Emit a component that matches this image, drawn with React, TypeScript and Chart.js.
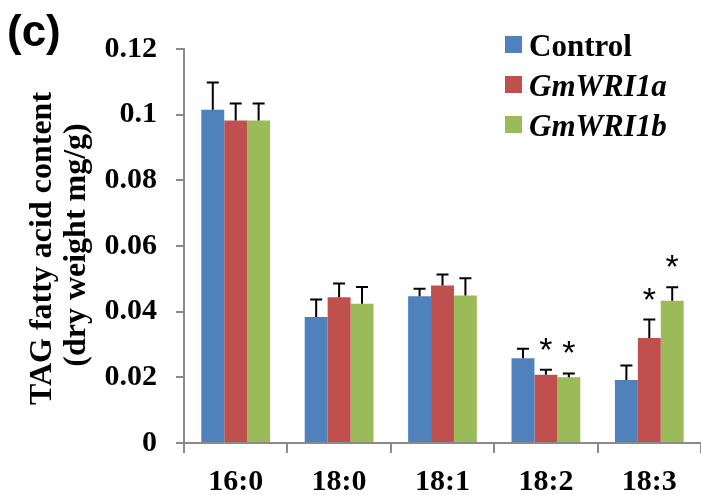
import React, { useEffect, useRef } from "react";
import { Chart, registerables } from "chart.js";

Chart.register(...registerables);

const categories = ["16:0", "18:0", "18:1", "18:2", "18:3"];
const seriesNames = ["Control", "GmWRI1a", "GmWRI1b"];
const control = [0.1015, 0.0384, 0.0447, 0.0258, 0.0192];
const controlErr = [0.0083, 0.0053, 0.0023, 0.0029, 0.0044];
const gmwri1a = [0.0982, 0.0444, 0.048, 0.0208, 0.032];
const gmwri1aErr = [0.0052, 0.0042, 0.0033, 0.0015, 0.0056];
const gmwri1b = [0.0982, 0.0424, 0.0449, 0.02, 0.0433];
const gmwri1bErr = [0.0052, 0.0051, 0.0053, 0.0012, 0.0041];
const controlSig = [false, false, false, false, false];
const gmwri1aSig = [false, false, false, true, true];
const gmwri1bSig = [false, false, false, true, true];
const yTickValues = [0, 0.02, 0.04, 0.06, 0.08, 0.1, 0.12];
const yTickLabels = ["0", "0.02", "0.04", "0.06", "0.08", "0.1", "0.12"];
const yTitleLines = ["TAG fatty acid content", "(dry weight mg/g)"];
const panelLabel = "(c)";

const colors = ["#4F81BD", "#C0504D", "#9BBB59"];
const errs = [controlErr, gmwri1aErr, gmwri1bErr];
const sigs = [controlSig, gmwri1aSig, gmwri1bSig];
const italicLegend = [false, true, true];
const AXIS = "#8a8a8a";

const overlayPlugin = {
  id: "overlay",
  afterDatasetsDraw(chart: any) {
    const ctx = chart.ctx;
    const y = chart.scales.y;
    ctx.save();
    chart.data.datasets.forEach((ds: any, di: number) => {
      const meta = chart.getDatasetMeta(di);
      meta.data.forEach((bar: any, i: number) => {
        const v = ds.data[i];
        const top = y.getPixelForValue(v + errs[di][i]);
        const base = y.getPixelForValue(v);
        ctx.strokeStyle = "#000";
        ctx.lineWidth = 2;
        ctx.beginPath();
        ctx.moveTo(bar.x, base);
        ctx.lineTo(bar.x, top);
        ctx.moveTo(bar.x - 6, top);
        ctx.lineTo(bar.x + 6, top);
        ctx.stroke();
        if (sigs[di][i]) {
          ctx.fillStyle = "#000";
          ctx.font = "34px 'Liberation Sans', Arial, sans-serif";
          ctx.textAlign = "center";
          ctx.textBaseline = "alphabetic";
          ctx.fillText("*", bar.x, top - 9);
        }
      });
    });
    ctx.restore();
  },
  afterDraw(chart: any) {
    const ctx = chart.ctx;
    ctx.save();
    // panel label
    ctx.fillStyle = "#000";
    ctx.font = "bold 44px 'Liberation Sans', Arial, sans-serif";
    ctx.textAlign = "left";
    ctx.textBaseline = "alphabetic";
    ctx.fillText(panelLabel, 7, 46);
    // y title
    ctx.font = "bold 32px 'Liberation Serif', 'Times New Roman', serif";
    ctx.textAlign = "center";
    const pos = [
      [51, 248.5],
      [85, 245],
    ];
    yTitleLines.forEach((t, i) => {
      ctx.save();
      ctx.translate(pos[i][0], pos[i][1]);
      ctx.rotate(-Math.PI / 2);
      ctx.fillText(t, 0, 0);
      ctx.restore();
    });
    // legend
    seriesNames.forEach((name, i) => {
      const top = 36 + i * 40;
      ctx.fillStyle = colors[i];
      ctx.fillRect(505, top, 17, 17);
      ctx.fillStyle = "#000";
      ctx.font =
        (italicLegend[i] ? "italic " : "") +
        "bold 31px 'Liberation Serif', 'Times New Roman', serif";
      ctx.textAlign = "left";
      ctx.fillText(name, 529, top + 20);
    });
    ctx.restore();
  },
};

export default function App() {
  const ref = useRef<HTMLCanvasElement>(null);
  useEffect(() => {
    if (!ref.current) return;
    const values = [control, gmwri1a, gmwri1b];
    const chart = new Chart(ref.current, {
      type: "bar",
      data: {
        labels: categories,
        datasets: seriesNames.map((n, i) => ({
          label: n,
          data: values[i],
          backgroundColor: colors[i],
          borderWidth: 0,
          categoryPercentage: 0.665,
          barPercentage: 1,
        })),
      },
      options: {
        animation: false,
        responsive: false,
        layout: { padding: { top: 49, right: -3, left: 0, bottom: 0 } },
        plugins: {
          legend: { display: false },
          tooltip: { enabled: false },
        },
        scales: {
          x: {
            grid: {
              offset: true,
              drawOnChartArea: false,
              tickLength: 10,
              color: AXIS,
              lineWidth: 2,
            },
            border: { color: AXIS, width: 2 },
            ticks: {
              color: "#000",
              padding: 11,
              font: { family: "'Liberation Serif', 'Times New Roman', serif", size: 30, weight: "bold" },
            },
            afterFit: (s: any) => {
              s.height = 52;
            },
          },
          y: {
            min: 0,
            max: 0.12,
            afterBuildTicks: (s: any) => {
              s.ticks = yTickValues.map((v) => ({ value: v }));
            },
            grid: {
              drawOnChartArea: false,
              tickLength: 8,
              color: AXIS,
              lineWidth: 2,
            },
            border: { color: AXIS, width: 2 },
            ticks: {
              color: "#000",
              padding: 19,
              callback: (v: any) => {
                const idx = yTickValues.findIndex((t) => Math.abs(t - Number(v)) < 1e-9);
                return idx >= 0 ? yTickLabels[idx] : "";
              },
              font: { family: "'Liberation Serif', 'Times New Roman', serif", size: 30, weight: "bold" },
            },
            afterFit: (s: any) => {
              s.width = 184;
            },
          },
        },
      },
      plugins: [overlayPlugin],
    });
    return () => chart.destroy();
  }, []);
  return (
    <div style={{ position: "fixed", left: 0, top: 0, width: 701, height: 495, background: "#fff" }}>
      <canvas ref={ref} width={701} height={495} style={{ width: 701, height: 495 }} />
    </div>
  );
}
